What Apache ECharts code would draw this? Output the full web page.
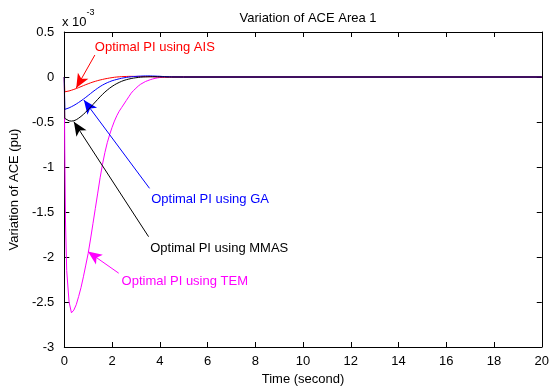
<!DOCTYPE html>
<html>
<head>
<meta charset="utf-8">
<script src="https://cdn.jsdelivr.net/npm/echarts@6/dist/echarts.min.js"></script>
<style>
  html, body { margin: 0; padding: 0; background: #fff; }
  #chart { width: 552px; height: 392px; }
</style>
</head>
<body>
<div id="chart"></div>
<script>
// time in seconds, ACE values in units of 1e-3 pu
const time = [
  0, 0.02, 0.05, 0.1, 0.2, 0.3, 0.4, 0.5, 0.6, 0.7, 0.8, 0.9, 1.0,
  1.1, 1.2, 1.3, 1.4, 1.5, 1.6, 1.7, 1.8, 1.9, 2.0,
  2.1, 2.2, 2.3, 2.4, 2.5, 2.6, 2.7, 2.8, 2.9, 3.0,
  3.1, 3.2, 3.3, 3.4, 3.5, 3.6, 3.7, 3.8, 3.9, 4.0,
  4.1, 4.2, 4.3, 4.4, 4.5, 5, 20,
]
const aceTEM = [
  0, -0.8, -1.6, -2.15, -2.5, -2.62, -2.59, -2.53, -2.44, -2.34, -2.22, -2.09, -1.96,
  -1.8, -1.63, -1.46, -1.29, -1.12, -0.97, -0.84, -0.73, -0.64, -0.56,
  -0.49, -0.43, -0.38, -0.34, -0.3, -0.26, -0.22, -0.18, -0.15, -0.125,
  -0.1, -0.08, -0.065, -0.05, -0.04, -0.03, -0.022, -0.015, -0.01, -0.006,
  -0.004, -0.002, -0.001, 0, 0, 0, 0,
]
const aceAIS = [
  0, -0.165, -0.164, -0.162, -0.155, -0.147, -0.138, -0.128, -0.118, -0.107, -0.096, -0.085, -0.075,
  -0.065, -0.056, -0.048, -0.04, -0.033, -0.027, -0.021, -0.016, -0.011, -0.007,
  -0.003, 0, 0.002, 0.004, 0.005, 0.006, 0.007, 0.007, 0.007, 0.006,
  0.006, 0.005, 0.005, 0.004, 0.004, 0.003, 0.003, 0.002, 0.002, 0.001,
  0.001, 0, 0, 0, 0, 0, 0,
]
const aceGA = [
  0, -0.36, -0.358, -0.354, -0.343, -0.33, -0.316, -0.3, -0.283, -0.265, -0.246, -0.226, -0.205,
  -0.184, -0.163, -0.143, -0.124, -0.106, -0.09, -0.076, -0.063, -0.052, -0.042,
  -0.034, -0.027, -0.02, -0.014, -0.009, -0.005, -0.001, 0.002, 0.005, 0.007,
  0.009, 0.01, 0.011, 0.012, 0.012, 0.012, 0.011, 0.01, 0.009, 0.008,
  0.006, 0.005, 0.003, 0.002, 0.001, 0, 0,
]
const aceMMAS = [
  0, -0.46, -0.468, -0.476, -0.487, -0.49, -0.486, -0.475, -0.458, -0.438, -0.415, -0.39, -0.363,
  -0.335, -0.306, -0.277, -0.248, -0.22, -0.193, -0.168, -0.145, -0.124, -0.105,
  -0.088, -0.073, -0.06, -0.048, -0.038, -0.03, -0.023, -0.017, -0.012, -0.008,
  -0.005, -0.002, 0, 0.001, 0.002, 0.003, 0.003, 0.003, 0.002, 0.002,
  0.001, 0.001, 0, 0, 0, 0, 0,
]

const xTicks = { min: 0, max: 20, interval: 2 }
const yTicks = { min: -3, max: 0.5, interval: 0.5 }

// annotations: label position, arrow tail, arrow head (data coords)
const labels = ['Optimal PI using TEM', 'Optimal PI using AIS', 'Optimal PI using GA', 'Optimal PI using MMAS']
const labelPos = [[2.4, -2.27], [1.28, 0.333], [3.64, -1.356], [3.6, -1.91]]
const arrowTail = [[2.28, -2.18], [1.28, 0.244], [3.57, -1.237], [3.53, -1.774]]
const arrowHead = [[0.99, -1.94], [0.5, -0.122], [0.82, -0.256], [0.4, -0.497]]

const seriesValues = [aceTEM, aceAIS, aceGA, aceMMAS]
const colors = ['#ff00ff', '#ff0000', '#0000ff', '#000000']
const font = 'Liberation Sans, Arial, sans-serif'

const chart = echarts.init(document.getElementById('chart'), null, { renderer: 'canvas' })

const axisBase = {
  axisLine: { show: true, onZero: false, lineStyle: { color: '#000', width: 1 } },
  axisTick: { show: true, inside: true, length: 5, lineStyle: { color: '#000' } },
  splitLine: { show: false },
}

chart.setOption({
  animation: false,
  backgroundColor: '#fff',
  title: {
    text: 'Variation of ACE Area 1',
    left: 303,
    top: 7,
    textAlign: 'center',
    textStyle: { fontFamily: font, fontSize: 13, fontWeight: 'normal', color: '#000' },
  },
  graphic: [{
    type: 'text',
    left: 62,
    top: 8,
    style: {
      text: '{a|x 10}{b|-3}',
      rich: {
        a: { fontFamily: font, fontSize: 13, fill: '#000', verticalAlign: 'bottom', padding: [8, 0, 0, 0] },
        b: { fontFamily: font, fontSize: 9, fill: '#000', verticalAlign: 'top' },
      },
    },
  }],
  grid: { left: 62, right: 7, top: 32, bottom: 45 },
  xAxis: [
    {
      ...axisBase,
      type: 'value',
      position: 'bottom',
      ...xTicks,
      name: 'Time (second)',
      nameLocation: 'middle',
      nameGap: 26,
      nameTextStyle: { fontFamily: font, fontSize: 13, color: '#000' },
      axisLabel: { color: '#000', fontFamily: font, fontSize: 13, margin: 8 },
    },
    {
      ...axisBase,
      type: 'value',
      position: 'top',
      ...xTicks,
      axisLabel: { show: false },
    },
  ],
  yAxis: [
    {
      ...axisBase,
      type: 'value',
      position: 'left',
      ...yTicks,
      name: 'Variation of ACE (pu)',
      nameLocation: 'middle',
      nameGap: 40,
      nameRotate: 90,
      nameTextStyle: { fontFamily: font, fontSize: 13, color: '#000' },
      axisLabel: { color: '#000', fontFamily: font, fontSize: 13, margin: 10 },
    },
    {
      ...axisBase,
      type: 'value',
      position: 'right',
      ...yTicks,
      axisLabel: { show: false },
    },
  ],
  series: seriesValues.map((vals, i) => ({
    name: labels[i],
    type: 'line',
    data: time.map((t, k) => [t, vals[k]]),
    smooth: false,
    showSymbol: false,
    lineStyle: { color: colors[i], width: 1 },
    itemStyle: { color: colors[i] },
    z: 2 + i,
    markLine: {
      silent: true,
      symbol: ['none', 'arrow'],
      symbolSize: [9, 14],
      label: { show: false },
      lineStyle: { color: colors[i], width: 1, type: 'solid' },
      data: [[{ coord: arrowTail[i] }, { coord: arrowHead[i] }]],
    },
    markPoint: {
      silent: true,
      symbol: 'circle',
      symbolSize: 0,
      data: [{
        coord: labelPos[i],
        label: {
          show: true,
          position: 'right',
          distance: 0,
          formatter: labels[i],
          color: colors[i],
          fontFamily: font,
          fontSize: 13,
        },
      }],
    },
  })),
})
</script>
</body>
</html>
